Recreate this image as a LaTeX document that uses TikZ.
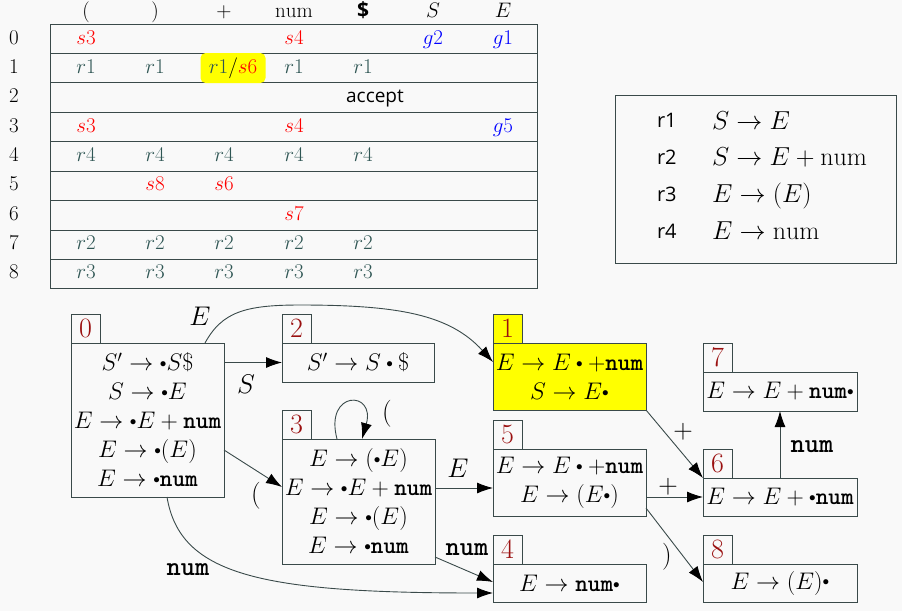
\documentclass[tikz,border=0pt]{standalone}
\usepackage{fix-cm}
\usepackage{graphicx}
\usepackage{fontspec}
\setsansfont{Open Sans}
\usetikzlibrary{arrows.meta,calc}
\definecolor{bg}{HTML}{F9F9F9}
\definecolor{ln}{HTML}{3A4A4A}
\definecolor{rc}{HTML}{2F5654}
\definecolor{sc}{HTML}{FF0000}
\definecolor{gc}{HTML}{0000FF}
\definecolor{nc}{HTML}{9A1010}
\definecolor{hl}{HTML}{FFFF00}
\newcommand{\tnum}{\texttt{\bfseries num}}
\newcommand{\dt}{{\vcenter{\hbox{\scalebox{0.55}{$\bullet$}}}}}
\newcommand{\bdt}{\mathbin{\vcenter{\hbox{\scalebox{0.55}{$\bullet$}}}}}
\newcommand{\entS}[1]{\textcolor{sc}{$s#1$}}
\newcommand{\entG}[1]{\textcolor{gc}{$g#1$}}
\newcommand{\entR}[1]{\textcolor{rc}{$r#1$}}
\begin{document}
\begin{tikzpicture}[x=1pt,y=-1pt,
  every node/.style={inner sep=0pt, outer sep=0pt},
  tabrow/.style={draw=ln, line width=1pt},
  tcell/.style={font=\fontsize{21}{25}\selectfont, anchor=base},
  gcell/.style={font=\fontsize{26}{30}\selectfont, anchor=base west},
  glab/.style={font=\sffamily\fontsize{20}{23}\selectfont, anchor=base west},
  stbox/.style={draw=ln, line width=0.9pt, fill=bg, font=\fontsize{24}{29}\selectfont, align=center, anchor=north west},
  stnum/.style={draw=ln, line width=0.9pt, fill=bg, font=\fontsize{28}{30}\selectfont, text=nc, anchor=south west, minimum width=29pt, minimum height=29pt},
  elab/.style={font=\fontsize{27}{30}\selectfont},
  conn/.style={draw=ln, line width=0.9pt, -{Latex[length=16pt,width=11pt,color=black]}},
  ]
\useasboundingbox (0,0) rectangle (902,611);
\fill[bg] (0,0) rectangle (902,611);

% ---------- table ----------
\foreach \i in {0,...,8} {
  \draw[tabrow] (50,{24+29.44*\i}) rectangle (537,{24+29.44*(\i+1)});
  \node[tcell] (rn\i) at (14,{44.3+29.3*\i}) {$\i$};
}
\node[tcell] (h1) at (86,17) {$($};
\node[tcell] (h2) at (155,17) {$)$};
\node[tcell] (h3) at (224,17) {$+$};
\node[tcell] (h4) at (294,17) {$\mathrm{num}$};
\node[tcell] (h5) at (363,17) {\sffamily\bfseries\$};
\node[tcell] (h6) at (433,17) {$S$};
\node[tcell] (h7) at (503,17) {$E$};

% row 0
\node[tcell] (c00) at (86,44.3) {\entS{3}};
\node[tcell] (c03) at (294,44.3) {\entS{4}};
\node[tcell] (c05) at (433,44.3) {\entG{2}};
\node[tcell] (c06) at (503,44.3) {\entG{1}};
% row 1
\node[fill=hl, rounded corners=5pt, minimum width=65pt, minimum height=30pt] (hlb) at (233,68) {};
\node[tcell] (c10) at (86,73.6) {\entR{1}};
\node[tcell] (c11) at (155,73.6) {\entR{1}};
\node[tcell] (c12) at (233,73.6) {\entR{1}$/$\entS{6}};
\node[tcell] (c13) at (294,73.6) {\entR{1}};
\node[tcell] (c14) at (363,73.6) {\entR{1}};
% row 2
\node[tcell, font=\sffamily\fontsize{19}{22}\selectfont] (c2) at (375,102.9) {accept};
% row 3
\node[tcell] (c30) at (86,132.2) {\entS{3}};
\node[tcell] (c33) at (294,132.2) {\entS{4}};
\node[tcell] (c36) at (503,132.2) {\entG{5}};
% rows 4, 7, 8
\foreach \x [count=\k] in {86,155,224,294,363} {
  \node[tcell] (c4\k) at (\x,161.5) {\entR{4}};
  \node[tcell] (c7\k) at (\x,249.4) {\entR{2}};
  \node[tcell] (c8\k) at (\x,278.7) {\entR{3}};
}
% row 5
\node[tcell] (c51) at (155,190.8) {\entS{8}};
\node[tcell] (c52) at (224,190.8) {\entS{6}};
% row 6
\node[tcell] (c63) at (294,220.1) {\entS{7}};

% ---------- grammar ----------
\node[draw=ln, line width=0.9pt, minimum width=281pt, minimum height=168pt, anchor=north west] (gram) at (615,95) {};
\node[glab] (g1l) at (657,127) {r1};
\node[gcell] (g1r) at (712,129) {$S\to E$};
\node[glab] (g2l) at (657,164) {r2};
\node[gcell] (g2r) at (712,165) {$S\to E+\mathrm{num}$};
\node[glab] (g3l) at (657,201) {r3};
\node[gcell] (g3r) at (712,202) {$E\to (E)$};
\node[glab] (g4l) at (657,238) {r4};
\node[gcell] (g4r) at (712,239) {$E\to \mathrm{num}$};

% ---------- states ----------
\node[stbox, minimum width=153pt, minimum height=154pt] (s0) at (71,343)
  {$S'\to\dt S\$$\\ $S\to\dt E$\\ $E\to\dt E+\tnum$\\ $E\to\dt(E)$\\ $E\to\dt\tnum$};
\node[stnum] (s0n) at (s0.north west) {0};

\node[stbox, minimum width=152pt, minimum height=39pt] (s2) at (282,343)
  {$S'\to S\bdt\$$};
\node[stnum] (s2n) at (s2.north west) {2};

\node[stbox, minimum width=153pt, minimum height=125pt] (s3) at (282,439)
  {$E\to(\dt E)$\\ $E\to\dt E+\tnum$\\ $E\to\dt(E)$\\ $E\to\dt\tnum$};
\node[stnum] (s3n) at (s3.north west) {3};

\node[stbox, fill=hl, minimum width=153pt, minimum height=67pt] (s1) at (493,343)
  {$E\to E\bdt{+}\tnum$\\ $S\to E\dt$};
\node[stnum, fill=hl] (s1n) at (s1.north west) {1};

\node[stbox, minimum width=153pt, minimum height=67pt] (s5) at (493,449)
  {$E\to E\bdt{+}\tnum$\\ $E\to(E\dt)$};
\node[stnum] (s5n) at (s5.north west) {5};

\node[stbox, minimum width=153pt, minimum height=38pt] (s4) at (493,564)
  {$E\to\tnum\dt$};
\node[stnum] (s4n) at (s4.north west) {4};

\node[stbox, minimum width=154pt, minimum height=39pt] (s7) at (703,372)
  {$E\to E+\tnum\dt$};
\node[stnum] (s7n) at (s7.north west) {7};

\node[stbox, minimum width=154pt, minimum height=38pt] (s6) at (703,478)
  {$E\to E+\dt\tnum$};
\node[stnum] (s6n) at (s6.north west) {6};

\node[stbox, minimum width=154pt, minimum height=38pt] (s8) at (703,564)
  {$E\to(E)\dt$};
\node[stnum] (s8n) at (s8.north west) {8};

% ---------- connectors ----------
\draw[conn] (s0.east |- s2.west) -- (s2.west);
\draw[conn] ($(s0.north east)+(-19,0)$) .. controls (222,312) and (245,305) .. (300,305)
   .. controls (400,305) and (450,315) .. ($(s1.north west)+(0,19)$);
\draw[conn] ($(s0.north east)+(0,107)$) -- ($(s3.north west)+(0,48)$);
\draw[conn] ($(s3.north west)+(55,0)$) .. controls (324,390) and (376,390) .. ($(s3.north west)+(80,0)$);
\draw[conn] ($(s3.north east)+(0,49)$) -- ($(s5.north west)+(0,39)$);
\draw[conn] ($(s3.north east)+(0,118)$) -- ($(s4.north west)+(0,18)$);
\draw[conn] ($(s0.south west)+(96,0)$) .. controls (180,575) and (260,593) .. ($(s4.north west)+(0,29)$);
\draw[conn] (s1.south east) -- (s6.north west);
\draw[conn] ($(s5.north east)+(0,48)$) -- ($(s6.north west)+(0,19)$);
\draw[conn] ($(s5.north east)+(0,59)$) -- ($(s8.north west)+(0,18)$);
\draw[conn] (s6.north) -- (s7.south);

% ---------- edge labels ----------
\node[elab] (lE01) at (200,316) {$E$};
\node[elab] (lS02) at (246,384) {$S$};
\node[elab] (lP03) at (256,496) {$($};
\node[elab] (lP33) at (387,414) {$($};
\node[elab] (lE35) at (458,468) {$E$};
\node[elab] (lN34) at (467,550) {\tnum};
\node[elab] (lN04) at (188,570) {\tnum};
\node[elab] (lA16) at (683,432) {$+$};
\node[elab] (lA56) at (668,487) {$+$};
\node[elab] (lC58) at (667,557) {$)$};
\node[elab] (lN67) at (812,447) {\tnum};
\end{tikzpicture}
\end{document}
